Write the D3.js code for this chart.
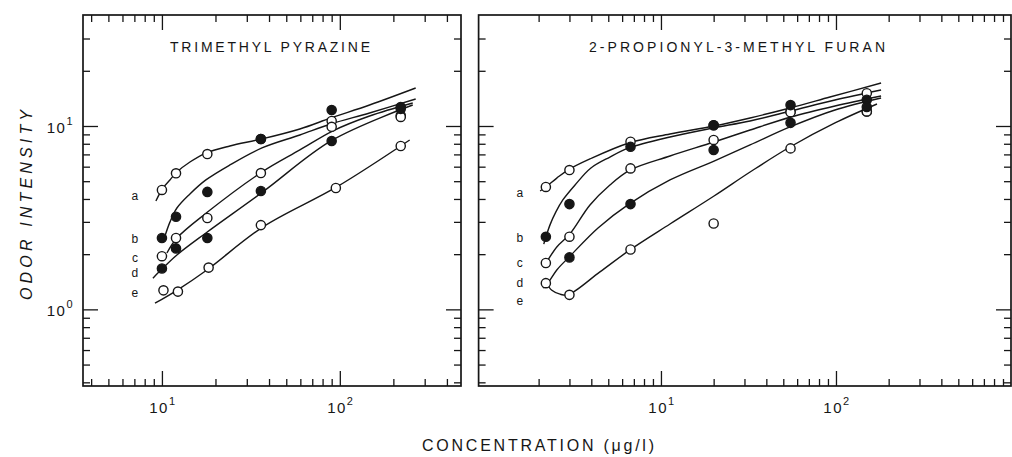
<!DOCTYPE html>
<html><head><meta charset="utf-8">
<script src="https://cdn.jsdelivr.net/npm/d3@7"></script>
<style>
html,body{margin:0;padding:0;background:#fff;}
svg{display:block;}
text{font-family:"Liberation Sans","DejaVu Sans",sans-serif;fill:#161616;}
</style></head><body>
<svg id="chart" width="1012" height="457"></svg>
<script>
// ---------------- data ----------------
const seriesKeys = ["a", "b", "c", "d", "e"];
const seriesFilled = [false, true, false, true, false];

// Trimethyl pyrazine — measured points [concentration µg/l, odor intensity]
const pyrA = [[10,4.48],[12,5.52],[18,7.03],[36,8.5],[90,10.65],[220,11.4]];
const pyrB = [[10,2.45],[12,3.2],[18,4.37],[36,8.5],[90,12.23],[220,12.7]];
const pyrC = [[10,1.95],[12,2.45],[18,3.15],[36,5.54],[90,9.9],[220,11.2]];
const pyrD = [[10,1.67],[12,2.15],[18,2.45],[36,4.42],[90,8.29],[220,12.4]];
const pyrE = [[10.2,1.27],[12.3,1.25],[18.3,1.69],[36,2.88],[95,4.59],[220,7.78]];
// Trimethyl pyrazine — fitted curves
const pyrFitA = [[9.25,3.9],[10.13,4.59],[11.09,5.08],[12.14,5.61],[14.37,6.36],[17.67,7.12],[24.1,7.78],[36.5,8.5],[59.6,9.63],[89,11.06],[147,13.02],[267,16.12]];
const pyrFitB = [[10.4,2.51],[11.09,2.99],[12.14,3.57],[14.37,4.26],[17.67,5.08],[24.1,6.13],[36.5,7.59],[59.6,8.93],[89,10.25],[147,11.77],[267,14.04]];
const pyrFitC = [[10.67,2.03],[12.14,2.45],[17.67,3.34],[36.5,5.61],[59.6,7.4],[91,9.39],[147,11.34],[257,13.35]];
const pyrFitD = [[8.9,1.48],[10.13,1.68],[12.14,1.98],[17.67,2.61],[36.9,4.37],[91,8.39],[257,13.02]];
const pyrFitE = [[9.14,1.08],[12.14,1.27],[17.9,1.64],[36.9,2.81],[96,4.65],[247,8.39]];

// 2-Propionyl-3-methyl furan — measured points
const furA = [[2.2,4.65],[3,5.75],[6.7,8.21],[20,10.1],[55,12.0],[150,15.1]];
const furB = [[2.2,2.49],[3,3.75],[6.7,7.71],[20,10.1],[55,13.0],[150,13.9]];
const furC = [[2.2,1.79],[3,2.49],[6.7,5.87],[20,8.39],[55,11.9],[150,12.0]];
const furD = [[3,1.92],[6.7,3.75],[20,7.4],[55,10.4],[150,12.7]];
const furE = [[2.2,1.39],[3,1.2],[6.7,2.12],[20,2.94],[55,7.55],[150,12.0]];
// 2-Propionyl-3-methyl furan — fitted curves
const furFitA = [[2.04,4.42],[2.2,4.65],[2.54,5.2],[2.94,5.75],[3.93,6.61],[6.56,8.08],[11.26,9.04],[20.1,10.0],[32.3,11.06],[54.6,12.54],[92.4,14.39],[181,17.16]];
const furFitB = [[2.14,2.27],[2.32,2.88],[2.51,3.4],[2.75,3.95],[3.23,4.77],[3.98,5.9],[5.11,6.77],[6.56,7.59],[11.26,8.71],[19.8,9.75],[32.3,10.65],[55.3,12.07],[98.7,13.86],[181,15.72]];
const furFitC = [[2.12,1.7],[2.26,1.86],[2.54,2.19],[3.02,2.58],[3.93,3.71],[5.11,4.77],[6.65,5.75],[11.26,6.86],[20.1,8.18],[32.3,9.51],[55.3,11.2],[98.7,12.86],[181,14.58]];
const furFitD = [[2.12,1.31],[2.26,1.39],[2.54,1.64],[3.02,1.95],[4.37,2.78],[6.56,3.75],[11.26,5.08],[20.1,6.44],[32.3,7.88],[54.6,9.88],[98.7,12.23],[181,14.21]];
const furFitE = [[2.2,1.41],[2.38,1.27],[2.65,1.21],[2.94,1.2],[4.48,1.6],[6.65,2.11],[11.26,2.92],[20.1,4.15],[32.3,5.61],[54.6,7.68],[98.7,10.39],[171.5,13.18]];

// curve letter labels (odor intensity at which each letter sits)
const pyrLetterY = [4.15, 2.41, 1.9, 1.58, 1.23];
const furLetterY = [4.31, 2.45, 1.79, 1.39, 1.11];
const pyrLetterX = 7.05;
const furLetterX = 1.56;

// axis ticks
const xMajorTicks = [10, 100];
const xMinorLeft = [4,5,6,7,8,9,20,30,40,50,60,70,80,90,200,300,400];
const xMinorRight = [2,3,4,5,6,7,8,9,20,30,40,50,60,70,80,90,200,300,400,500,600,700,800,900];
const yMajorTicks = [1, 10];
const yMinorTicks = [0.4,0.5,0.6,0.7,0.8,0.9,2,3,4,5,6,7,8,9,20,30];
const xTickExp = {10: "1", 100: "2"};
const yTickExp = {1: "0", 10: "1"};

const titles = ["TRIMETHYL PYRAZINE", "2-PROPIONYL-3-METHYL FURAN"];
const yTitle = "ODOR INTENSITY";
const xTitle = "CONCENTRATION (\u03BCg/l)";

// ---------------- layout ----------------
const svg = d3.select("#chart");
const plotTop = 15, plotBottom = 386;
const y = d3.scaleLog().domain([0.382, 40.3]).range([plotBottom, plotTop]);

const panels = [
  { x: d3.scaleLog().domain([3.6, 480]).range([83, 461]),
    pts: [pyrA, pyrB, pyrC, pyrD, pyrE],
    fits: [pyrFitA, pyrFitB, pyrFitC, pyrFitD, pyrFitE],
    minor: xMinorLeft, letterX: pyrLetterX, letterY: pyrLetterY,
    title: titles[0], titleX: 270, titleLen: 200, yLabels: true },
  { x: d3.scaleLog().domain([0.908, 1000]).range([478.6, 1011]),
    pts: [furA, furB, furC, furD, furE],
    fits: [furFitA, furFitB, furFitC, furFitD, furFitE],
    minor: xMinorRight, letterX: furLetterX, letterY: furLetterY,
    title: titles[1], titleX: 737, titleLen: 296, yLabels: false }
];

const ink = "#161616";
const minorLen = 7, majorLen = 15;

function styleAxis(g) {
  g.select(".domain").remove();
  g.selectAll(".tick line").attr("stroke", ink).attr("stroke-width", 1.3);
  g.selectAll(".tick text").remove();
}

panels.forEach(p => {
  const x = p.x;
  const [x0, x1] = x.range();
  const g = svg.append("g");

  // ticks (inward on all four sides)
  [[p.minor, minorLen], [xMajorTicks, majorLen]].forEach(([vals, len]) => {
    g.append("g").attr("transform", `translate(0,${plotBottom})`)
      .call(d3.axisBottom(x).tickValues(vals).tickSize(-len)).call(styleAxis);
    g.append("g").attr("transform", `translate(0,${plotTop})`)
      .call(d3.axisTop(x).tickValues(vals).tickSize(-len)).call(styleAxis);
  });
  [[yMinorTicks, minorLen], [yMajorTicks, majorLen]].forEach(([vals, len]) => {
    g.append("g").attr("transform", `translate(${x0},0)`)
      .call(d3.axisLeft(y).tickValues(vals).tickSize(-len)).call(styleAxis);
    g.append("g").attr("transform", `translate(${x1},0)`)
      .call(d3.axisRight(y).tickValues(vals).tickSize(-len)).call(styleAxis);
  });

  // frame
  g.append("rect").attr("x", x0).attr("y", plotTop).attr("width", x1 - x0).attr("height", plotBottom - plotTop)
    .attr("fill", "none").attr("stroke", ink).attr("stroke-width", 1.7);

  // x tick labels
  xMajorTicks.forEach(v => {
    const t = g.append("text").attr("x", x(v) + 1).attr("y", 413)
      .attr("text-anchor", "middle").attr("font-size", 15).attr("letter-spacing", 1.5);
    t.append("tspan").text("10");
    t.append("tspan").attr("dy", -8).attr("font-size", 11).text(xTickExp[v]);
  });
  if (p.yLabels) {
    yMajorTicks.forEach(v => {
      const t = g.append("text").attr("x", 74).attr("y", y(v) + 7)
        .attr("text-anchor", "end").attr("font-size", 15).attr("letter-spacing", 1.5);
      t.append("tspan").text("10");
      t.append("tspan").attr("dy", -8).attr("font-size", 11).text(yTickExp[v]);
    });
  }

  // title
  g.append("text").attr("x", p.titleX).attr("y", 52)
    .attr("text-anchor", "middle").attr("font-size", 14)
    .attr("textLength", p.titleLen).attr("lengthAdjust", "spacing").text(p.title);

  // fitted curves
  const line = d3.line().x(d => x(d[0])).y(d => y(d[1])).curve(d3.curveCatmullRom.alpha(0.5));
  p.fits.forEach(f => {
    g.append("path").attr("d", line(f)).attr("fill", "none")
      .attr("stroke", ink).attr("stroke-width", 1.4);
  });

  // markers: open first, filled on top
  [false, true].forEach(filledPass => {
    p.pts.forEach((pts, i) => {
      if (seriesFilled[i] !== filledPass) return;
      g.selectAll(null).data(pts).join("circle")
        .attr("cx", d => x(d[0])).attr("cy", d => y(d[1])).attr("r", 4.6)
        .attr("fill", seriesFilled[i] ? ink : "#fff")
        .attr("stroke", ink).attr("stroke-width", 1.4);
    });
  });

  // letters
  seriesKeys.forEach((k, i) => {
    g.append("text").attr("x", x(p.letterX)).attr("y", y(p.letterY[i]) + 4)
      .attr("text-anchor", "middle").attr("font-size", 12).text(k);
  });
});

// axis titles
svg.append("text").attr("transform", "translate(32,205) rotate(-90)")
  .attr("text-anchor", "middle").attr("font-size", 16).attr("font-style", "italic")
  .attr("textLength", 190).attr("lengthAdjust", "spacing").text(yTitle);
svg.append("text").attr("x", 538).attr("y", 451)
  .attr("text-anchor", "middle").attr("font-size", 16)
  .attr("textLength", 232).attr("lengthAdjust", "spacing").text(xTitle);
</script>
</body></html>
